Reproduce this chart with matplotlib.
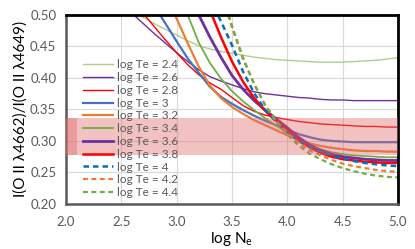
import numpy as np
import matplotlib
matplotlib.use("Agg")
import matplotlib.pyplot as plt

# log Ne grid used for every curve
log_ne = [2.5, 2.6, 2.7, 2.8, 2.9, 3.0, 3.1, 3.2, 3.3, 3.4, 3.5, 3.6, 3.7,
          3.8, 3.9, 4.0, 4.1, 4.2, 4.3, 4.4, 4.5, 4.6, 4.7, 4.8, 4.9, 5.0]
nan = np.nan

te_24 = [0.514, 0.505, 0.496, 0.486, 0.477, 0.468, 0.459, 0.451, 0.446, 0.442, 0.439, 0.436, 0.433,
         0.431, 0.429, 0.428, 0.427, 0.426, 0.425, 0.425, 0.425, 0.426, 0.427, 0.428, 0.430, 0.432]
te_26 = [0.518, 0.502, 0.486, 0.470, 0.455, 0.440, 0.426, 0.413, 0.402, 0.395, 0.389, 0.383, 0.378,
         0.375, 0.373, 0.371, 0.369, 0.368, 0.366, 0.365, 0.365, 0.364, 0.364, 0.364, 0.364, 0.364]
te_28 = [nan, 0.525, 0.502, 0.481, 0.460, 0.440, 0.421, 0.405, 0.392, 0.382, 0.369, 0.356, 0.347,
         0.341, 0.337, 0.334, 0.331, 0.329, 0.327, 0.326, 0.325, 0.324, 0.323, 0.323, 0.322, 0.322]
te_30 = [nan, nan, 0.540, 0.514, 0.486, 0.458, 0.431, 0.408, 0.386, 0.370, 0.359, 0.349, 0.340,
         0.332, 0.325, 0.318, 0.311, 0.306, 0.302, 0.300, 0.299, 0.298, 0.298, 0.298, 0.298, 0.298]
te_32 = [nan, nan, nan, nan, 0.535, 0.494, 0.455, 0.418, 0.388, 0.368, 0.354, 0.343, 0.333,
         0.325, 0.317, 0.309, 0.302, 0.296, 0.292, 0.289, 0.287, 0.285, 0.284, 0.284, 0.283, 0.283]
te_34 = [nan, nan, nan, nan, nan, 0.550, 0.500, 0.456, 0.424, 0.399, 0.379, 0.363, 0.349,
         0.336, 0.324, 0.313, 0.302, 0.293, 0.287, 0.282, 0.279, 0.277, 0.276, 0.275, 0.274, 0.274]
te_36 = [nan, nan, nan, nan, nan, nan, 0.540, 0.500, 0.465, 0.433, 0.404, 0.382, 0.364,
         0.349, 0.335, 0.321, 0.306, 0.294, 0.285, 0.279, 0.275, 0.273, 0.271, 0.270, 0.269, 0.269]
te_38 = [nan, nan, nan, nan, nan, nan, nan, 0.560, 0.508, 0.465, 0.426, 0.394, 0.368,
         0.348, 0.332, 0.317, 0.302, 0.290, 0.281, 0.275, 0.271, 0.269, 0.267, 0.266, 0.265, 0.265]
te_40 = [nan, nan, nan, nan, nan, nan, nan, nan, 0.525, 0.490, 0.452, 0.410, 0.376,
         0.349, 0.330, 0.314, 0.300, 0.290, 0.283, 0.277, 0.272, 0.268, 0.265, 0.263, 0.261, 0.260]
te_42 = [nan, nan, nan, nan, nan, nan, nan, nan, nan, 0.535, 0.480, 0.430, 0.390,
         0.357, 0.332, 0.313, 0.297, 0.285, 0.277, 0.270, 0.264, 0.260, 0.257, 0.254, 0.252, 0.251]
te_44 = [nan, nan, nan, nan, nan, nan, nan, nan, nan, 0.540, 0.483, 0.432, 0.391,
         0.357, 0.331, 0.310, 0.293, 0.280, 0.271, 0.263, 0.257, 0.252, 0.248, 0.245, 0.243, 0.242]

labels = ["log Te = 2.4", "log Te = 2.6", "log Te = 2.8", "log Te = 3", "log Te = 3.2",
          "log Te = 3.4", "log Te = 3.6", "log Te = 3.8", "log Te = 4", "log Te = 4.2",
          "log Te = 4.4"]
series = [te_24, te_26, te_28, te_30, te_32, te_34, te_36, te_38, te_40, te_42, te_44]
colors = ["#A9D18E", "#7030A0", "#FF0000", "#4472C4", "#ED7D31", "#70AD47",
          "#7030A0", "#FF0000", "#0070C0", "#ED7D31", "#70AD47"]
widths = [1.0, 1.0, 1.0, 1.6, 1.6, 1.3, 2.0, 1.8, 1.8, 1.6, 1.6]
styles = ["-"] * 8 + ["--"] * 3

band_lo, band_hi = 0.277, 0.336

plt.rcParams['font.family'] = ['Lato', 'DejaVu Sans']

fig = plt.figure(figsize=(4.15, 2.49), dpi=100)
ax = fig.add_axes([0.159, 0.181, 0.800, 0.759])

for y, c, lw, ls, lab in zip(series, colors, widths, styles, labels):
    if ls == "--":
        ax.plot(log_ne, y, color=c, lw=lw, ls=(0, (2.2, 1.6)), label=lab)
    else:
        ax.plot(log_ne, y, color=c, lw=lw, label=lab)

ax.axhspan(band_lo, band_hi, color="#E06666", alpha=0.4, lw=0, zorder=3)
ax.fill_between([2.0, 2.1], band_lo, band_hi, color="#E06666", alpha=0.4, lw=0, zorder=3)

ax.set_xlim(2.0, 5.0)
ax.set_ylim(0.20, 0.50)
ax.set_xticks(np.arange(2.0, 5.01, 0.5))
ax.set_yticks(np.arange(0.20, 0.501, 0.05))
ax.set_xticklabels([f"{v:.1f}" for v in np.arange(2.0, 5.01, 0.5)])
ax.set_yticklabels([f"{v:.2f}" for v in np.arange(0.20, 0.501, 0.05)])
ax.tick_params(axis="x", length=0, labelsize=9.5, labelcolor="#595959", pad=9)
ax.tick_params(axis="y", length=0, labelsize=9.5, labelcolor="#595959", pad=7)
ax.grid(True, color="#D9D9D9", lw=0.8)
ax.set_axisbelow(True)

for s in ["top", "right"]:
    ax.spines[s].set_linewidth(2)
    ax.spines[s].set_color("black")
for s in ["left", "bottom"]:
    ax.spines[s].set_linewidth(1.8)
    ax.spines[s].set_color("#595959")

ax.set_xlabel("log N$_\\mathregular{e}$", fontsize=11, labelpad=1)
ax.set_ylabel("I(O II λ4662)/I(O II λ4649)", fontsize=11, labelpad=2)

ax.legend(loc="upper left", bbox_to_anchor=(0.05, 0.765), frameon=False,
          fontsize=8.5, labelspacing=0.15, handlelength=2.6, handletextpad=0.3,
          borderpad=0, borderaxespad=0, labelcolor="#595959")

fig.savefig("out.png", dpi=100)
